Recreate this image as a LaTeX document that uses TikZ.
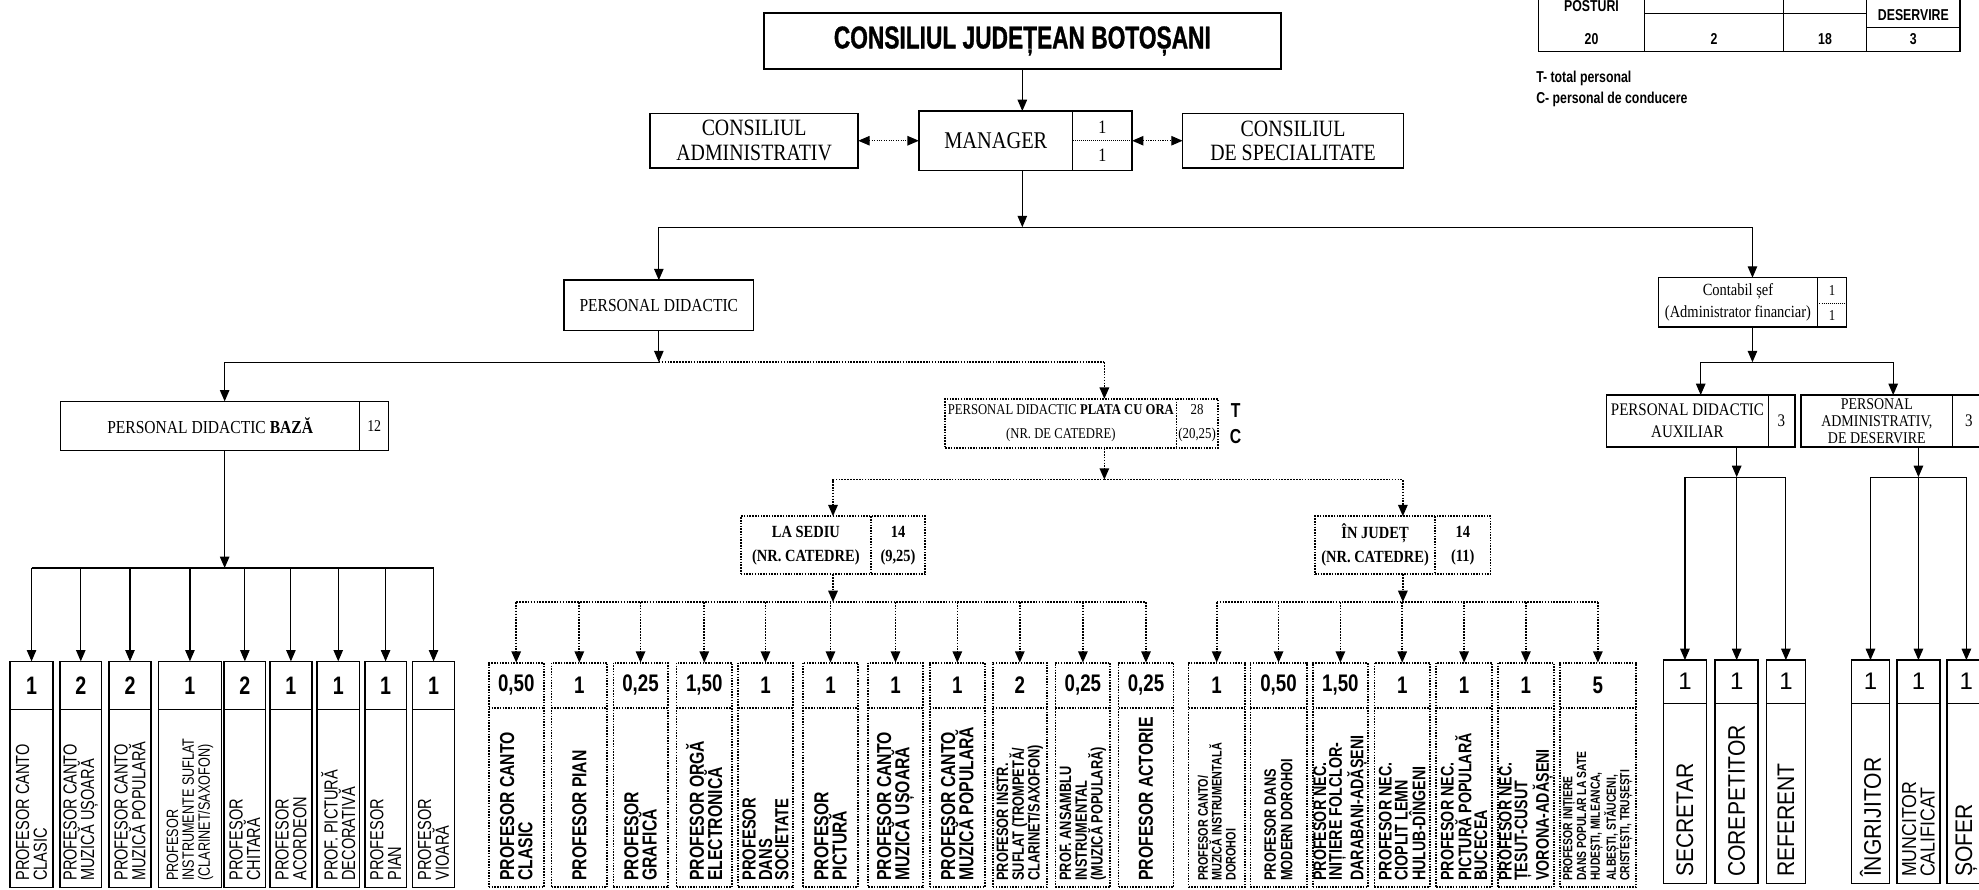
\documentclass[tikz,border=0pt]{standalone}
\usepackage{fontspec}
\setmainfont{Liberation Serif}
\newfontfamily\serf[FakeStretch=0.85]{Liberation Serif}
\newfontfamily\sanc[FakeStretch=0.77]{Liberation Sans}
\newfontfamily\cnd[FakeStretch=0.78]{Liberation Sans}
\newfontfamily\tfont[FakeStretch=0.72,FakeBold=1]{Liberation Sans}
\newfontfamily\rsans{Liberation Sans}
\newfontfamily\rsc[FakeStretch=0.88]{Liberation Sans}
\usetikzlibrary{arrows.meta,calc}
\newcommand\fsz[2]{\fontsize{#1}{#2}\selectfont}
% child box: name, cx, width, kind (s/d), number, label font, label text
\newcommand\kidbox[7]{%
  \node[cbox#4,anchor=north,minimum width=#3,minimum height=\cB-\cT] (#1) at (#2,\cT) {};
  \node[font=\numf,inner sep=0pt] (#1n) at (#2,{(\cT+\cD)/2}) {#5};
  \draw[cdiv#4] ($(#1.north west)+(0,\cD-\cT)$) -- ($(#1.north east)+(0,\cD-\cT)$);
  \node[rotate=90,anchor=west,align=left,inner sep=0pt,font=#6] (#1t) at ($(#1.south)+(0,-5)$) {#7};
}
\begin{document}
\begin{tikzpicture}[x=1pt,y=-1pt,
  >={Triangle[length=9pt,width=7.5pt]},
  box/.style={draw,line width=1.2pt,inner sep=0pt,outer sep=0pt,align=center},
  dbox/.style={box,densely dotted,line width=1.4pt},
  divs/.style={line width=0.6pt},
  ddivs/.style={densely dotted,line width=1.2pt},
  sline/.style={draw,line width=0.9pt},
  con/.style={sline,->},
  dline/.style={draw,densely dotted,line width=1.3pt},
  dcon/.style={dline,->},
  dbl/.style={draw,densely dotted,line width=0.9pt,<->},
  cboxs/.style={box},
  cboxd/.style={dbox},
  cdivs/.style={divs},
  cdivd/.style={ddivs}]
\useasboundingbox (0,0) rectangle (1568,705);

% ---------- top ----------
\node[box,line width=1.5pt,minimum width=410,minimum height=45,font=\tfont\bfseries\fsz{25}{28}] (cjb) at (810,32.5) {CONSILIUL JUDEȚEAN BOTOȘANI};

\node[box,minimum width=169,minimum height=47] (mgr) at (812.5,111.5) {};
\node[font=\serf\fsz{19}{20}] (mgrt) at (789,111.5) {MANAGER};
\draw[divs] (850,88) -- (850,135);
\draw[divs,densely dotted] (850,111.5) -- (897,111.5);
\node[font=\serf\fsz{15}{15}] (mgr1) at (873.5,100.5) {1};
\node[font=\serf\fsz{15}{15}] (mgr2) at (873.5,123) {1};

\node[box,minimum width=165,minimum height=43,font=\serf\fsz{18.5}{19.5}] (adm) at (597.5,111.5) {CONSILIUL\\ADMINISTRATIV};
\node[box,minimum width=175,minimum height=43,font=\serf\fsz{18.5}{19.5}] (spe) at (1024.5,111.5) {CONSILIUL\\DE SPECIALITATE};

\node[box,minimum width=150,minimum height=40,font=\serf\fsz{14.5}{16}] (pd) at (522,242) {PERSONAL DIDACTIC};

\node[box,minimum width=149,minimum height=39] (cont) at (1388.5,239.5) {};
\node[align=center,font=\serf\fsz{13.5}{18}] (contt) at (1377,239.5) {Contabil șef\\(Administrator financiar)};
\draw[divs] (1440,220) -- (1440,259);
\draw[divs,densely dotted] (1440,240) -- (1463,240);
\node[font=\serf\fsz{12}{12}] (cont1) at (1451.5,230) {1};
\node[font=\serf\fsz{12}{12}] (cont2) at (1451.5,250) {1};

\node[box,minimum width=260,minimum height=39] (pdb) at (178,337.5) {};
\node[font=\serf\fsz{14.5}{16}] (pdbt) at (166.5,337.5) {PERSONAL DIDACTIC \textbf{BAZĂ}};
\draw[divs] (285,318) -- (285,357);
\node[font=\serf\fsz{13}{13}] (pdbn) at (296.5,337.5) {12};

\node[dbox,minimum width=216,minimum height=39] (pla) at (857,335.5) {};
\node[align=center,font=\serf\fsz{11.8}{19}] (plat) at (840.5,335.5) {PERSONAL DIDACTIC \textbf{PLATA CU ORA}\\(NR. DE CATEDRE)};
\draw[ddivs] (932,316) -- (932,355);
\node[align=center,font=\serf\fsz{12}{19}] (plan) at (948.5,335.5) {28\\(20,25)};
\node[font=\cnd\bfseries\fsz{16}{16}] (tl) at (979,325) {T};
\node[font=\cnd\bfseries\fsz{16}{16}] (cl) at (979,346) {C};

\node[dbox,minimum width=146,minimum height=46] (ls) at (660,432) {};
\node[align=center,font=\serf\bfseries\fsz{13.5}{19}] (lst) at (638.5,432) {LA SEDIU\\(NR. CATEDRE)};
\draw[ddivs] (690,409) -- (690,455);
\node[align=center,font=\serf\bfseries\fsz{13.5}{19}] (lsn) at (711.5,432) {14\\(9,25)};

\node[dbox,minimum width=139,minimum height=46] (ij) at (1111.5,432) {};
\node[align=center,font=\serf\bfseries\fsz{13.5}{19}] (ijt) at (1089.5,432) {ÎN JUDEȚ\\(NR. CATEDRE)};
\draw[ddivs] (1137,409) -- (1137,455);
\node[align=center,font=\serf\bfseries\fsz{13.5}{19}] (ijn) at (1159,432) {14\\(11)};

\node[box,minimum width=149,minimum height=41] (pda) at (1347.5,333.5) {};
\node[align=center,font=\serf\fsz{14}{17}] (pdat) at (1337,333.5) {PERSONAL DIDACTIC\\AUXILIAR};
\draw[divs] (1401,313) -- (1401,354);
\node[font=\serf\fsz{14}{14}] (pdan) at (1411.5,333.5) {3};

\node[box,minimum width=146,minimum height=41] (pa) at (1500,333.5) {};
\node[align=center,font=\serf\fsz{13}{13.5}] (pat) at (1487,333.5) {PERSONAL\\ADMINISTRATIV,\\DE DESERVIRE};
\draw[divs] (1547,313) -- (1547,354);
\node[font=\serf\fsz{14}{14}] (pan) at (1560,333.5) {3};

% ---------- table top right ----------
\draw[line width=1.1pt] (1219,0) -- (1219,41) -- (1553,41) -- (1553,0);
\draw[line width=0.9pt] (1303,0) -- (1303,41) (1413,0) -- (1413,41) (1479,0) -- (1479,41);
\draw[line width=0.9pt] (1303,11) -- (1479,11) (1479,22) -- (1553,22);
\node[font=\cnd\bfseries\fsz{12.5}{12.5}] (tpost) at (1261,5) {POSTURI};
\node[font=\cnd\bfseries\fsz{12.5}{12.5}] (tdes) at (1516,12) {DESERVIRE};
\node[font=\cnd\bfseries\fsz{12.5}{12.5}] (t20) at (1261,31) {20};
\node[font=\cnd\bfseries\fsz{12.5}{12.5}] (t2) at (1358,31) {2};
\node[font=\cnd\bfseries\fsz{12.5}{12.5}] (t18) at (1446,31) {18};
\node[font=\cnd\bfseries\fsz{12.5}{12.5}] (t3) at (1516,31) {3};
\node[anchor=west,inner sep=0pt,font=\cnd\bfseries\fsz{12.5}{12.5}] (lgT) at (1217,62) {T- total personal};
\node[anchor=west,inner sep=0pt,font=\cnd\bfseries\fsz{12.5}{12.5}] (lgC) at (1217,79) {C- personal de conducere};

% ---------- top connectors ----------
\draw[con] (cjb) -- (cjb |- mgr.north);
\coordinate (j1) at (810,180);
\draw[con] (cjb |- mgr.south) -- (j1);
\draw[con] (j1) -| (pd);
\draw[con] (j1) -| (cont);
\draw[dbl] (adm) -- (mgr);
\draw[dbl] (mgr) -- (spe);

\coordinate (j2) at (522,287);
\draw[con] (pd) -- (j2);
\draw[con] (j2) -| (pdb);
\coordinate (pj) at (875,287);
\draw[dline] (j2) -- (pj);
\draw[dcon] (pj) -- (pj |- pla.north);
\coordinate (j3) at (875,380);
\draw[dcon] (pj |- pla.south) -- (j3);
\draw[dcon] (j3) -| (ls);
\draw[dcon] (j3) -| (ij);

\coordinate (jc) at (1388.5,287);
\draw[con] (cont) -- (jc);
\draw[con] (jc) -| (pda);
\draw[con] (jc) -| (pa);

% ---------- left group ----------
\def\cT{524}\def\cD{562}\def\cB{703}
\def\numf{\cnd\bfseries\fsz{20}{20}}
\def\lfa{\sanc\fsz{15}{14}}
\kidbox{a1}{25}{34}{s}{1}{\lfa}{PROFESOR CANTO\\CLASIC}
\kidbox{a2}{64}{33}{s}{2}{\lfa}{PROFESOR CANTO\\MUZICĂ UȘOARĂ}
\kidbox{a3}{103}{33}{s}{2}{\lfa}{PROFESOR CANTO\\MUZICĂ POPULARĂ}
\kidbox{a4}{150.5}{50}{s}{1}{\sanc\fsz{13}{12.5}}{PROFESOR\\INSTRUMENTE SUFLAT\\(CLARINET/SAXOFON)}
\kidbox{a5}{194}{33}{s}{2}{\lfa}{PROFESOR\\CHITARĂ}
\kidbox{a6}{230.5}{33}{s}{1}{\lfa}{PROFESOR\\ACORDEON}
\kidbox{a7}{268}{34}{s}{1}{\lfa}{PROF. PICTURĂ\\DECORATIVĂ}
\kidbox{a8}{305.5}{33}{s}{1}{\lfa}{PROFESOR\\PIAN}
\kidbox{a9}{343.5}{33}{s}{1}{\lfa}{PROFESOR\\VIOARĂ}
\coordinate (jl) at (178,450);
\draw[con] (pdb) -- (jl);
\draw[sline] (jl -| a1) -- (jl -| a9);
\foreach \k in {a1,a2,a3,a4,a5,a6,a7,a8,a9} \draw[con] (jl -| \k) -- (\k);

% ---------- la sediu group ----------
\def\cT{525}\def\cD{561}\def\cB{703}
\def\numf{\cnd\bfseries\fsz{19}{19}}
\def\mfa{\cnd\bfseries\fsz{16}{14.5}}
\def\mfb{\cnd\bfseries\fsz{13}{12.5}}
\kidbox{m1}{409}{43.5}{d}{0,50}{\mfa}{PROFESOR CANTO\\CLASIC}
\kidbox{m2}{459}{44}{d}{1}{\mfa}{PROFESOR PIAN}
\kidbox{m3}{507.5}{43}{d}{0,25}{\mfa}{PROFESOR\\GRAFICĂ}
\kidbox{m4}{558}{44}{d}{1,50}{\mfa}{PROFESOR ORGĂ\\ELECTRONICĂ}
\kidbox{m5}{606.5}{43}{d}{1}{\cnd\bfseries\fsz{15}{13}}{PROFESOR\\DANS\\SOCIETATE}
\kidbox{m6}{658}{44}{d}{1}{\mfa}{PROFESOR\\PICTURĂ}
\kidbox{m7}{709.5}{43}{d}{1}{\mfa}{PROFESOR CANTO\\MUZICĂ UȘOARĂ}
\kidbox{m8}{758.5}{43.5}{d}{1}{\mfa}{PROFESOR CANTO\\MUZICĂ POPULARĂ}
\kidbox{m9}{808}{42.5}{d}{2}{\mfb}{PROFESOR INSTR.\\SUFLAT (TROMPETĂ/\\CLARINET/SAXOFON)}
\kidbox{m10}{858}{43.5}{d}{0,25}{\mfb}{PROF. ANSAMBLU\\INSTRUMENTAL\\(MUZICĂ POPULARĂ)}
\kidbox{m11}{908}{43.5}{d}{0,25}{\mfa}{PROFESOR ACTORIE}
\coordinate (jm) at (660,477);
\draw[dcon] (ls) -- (jm);
\draw[dline] (jm -| m1) -- (jm -| m11);
\foreach \k in {m1,m2,m3,m4,m5,m6,m7,m8,m9,m10,m11} \draw[dcon] (jm -| \k) -- (\k);

% ---------- in judet group ----------
\def\nfa{\cnd\bfseries\fsz{14.5}{12.5}}
\kidbox{n1}{964}{44.5}{d}{1}{\cnd\bfseries\fsz{11}{11}}{PROFESOR CANTO/\\MUZICĂ INSTRUMENTALĂ\\DOROHOI}
\kidbox{n2}{1013}{44.5}{d}{0,50}{\cnd\bfseries\fsz{13}{13}}{PROFESOR DANS\\MODERN DOROHOI}
\kidbox{n3}{1062}{43.5}{d}{1,50}{\nfa}{PROFESOR NEC.\\INIȚIERE FOLCLOR-\\DARABANI-ADĂȘENI}
\kidbox{n4}{1111}{44}{d}{1}{\nfa}{PROFESOR NEC.\\CIOPLIT LEMN\\HULUB-DÎNGENI}
\kidbox{n5}{1160}{44}{d}{1}{\nfa}{PROFESOR NEC.\\PICTURĂ POPULARĂ\\BUCECEA}
\kidbox{n6}{1209}{44}{d}{1}{\nfa}{PROFESOR NEC.\\ȚESUT-CUSUT\\VORONA-ADĂȘENI}
\kidbox{n7}{1266}{60}{d}{5}{\cnd\bfseries\fsz{10.5}{10.8}}{PROFESOR INIȚIERE\\DANS POPULAR LA SATE\\HUDEȘTI, MILEANCA,\\ALBEȘTI, STĂUCENI,\\CRISTEȘTI, TRUȘEȘTI}
\coordinate (jn) at (1111.5,477);
\draw[dcon] (ij) -- (jn);
\draw[dline] (jn -| n1) -- (jn -| n7);
\foreach \k in {n1,n2,n3,n4,n5,n6,n7} \draw[dcon] (jn -| \k) -- (\k);

% ---------- right groups ----------
\def\cT{523}\def\cD{557}\def\cB{700}
\def\numf{\rsans\fsz{19}{19}}
\def\rfa{\rsc\fsz{19}{17}}
\kidbox{r1}{1335}{34}{s}{1}{\rfa}{SECRETAR}
\kidbox{r2}{1376}{34}{s}{1}{\rfa}{COREPETITOR}
\kidbox{r3}{1415}{31}{s}{1}{\rfa}{REFERENT}
\kidbox{r4}{1482}{30}{s}{1}{\rfa}{ÎNGRIJITOR}
\kidbox{r5}{1520}{34}{s}{1}{\rsc\fsz{16}{14.5}}{MUNCITOR\\CALIFICAT}
\kidbox{r6}{1558}{31}{s}{1}{\rfa}{ȘOFER}
\coordinate (jr) at (1376,378);
\draw[con] (jr |- pda.south) -- (jr);
\draw[sline] (jr -| r1) -- (jr -| r3);
\foreach \k in {r1,r2,r3} \draw[con] (jr -| \k) -- (\k);
\coordinate (jq) at (1520,378);
\draw[con] (jq |- pa.south) -- (jq);
\draw[sline] (jq -| r4) -- (jq -| r6);
\foreach \k in {r4,r5,r6} \draw[con] (jq -| \k) -- (\k);
\end{tikzpicture}
\end{document}
